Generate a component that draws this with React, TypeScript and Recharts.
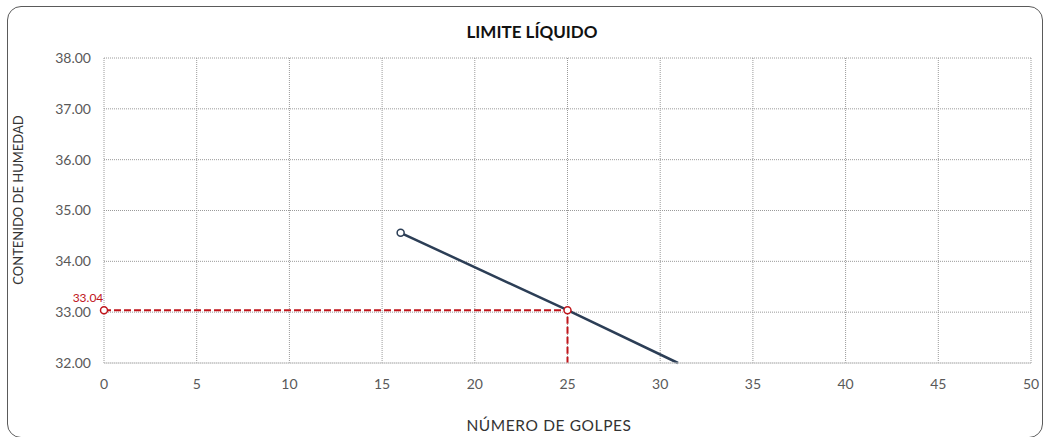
import { CartesianGrid, LabelList, Line, LineChart, XAxis, YAxis } from "recharts"

// Curva de fluidez (contenido de humedad vs número de golpes), visible hasta el borde inferior
const flowCurve = [
    { x: 16, y: 34.56 },
    { x: 25, y: 33.04 },
    { x: 30.96, y: 32 },
]

// Lectura del límite líquido a 25 golpes
const guideLine = [
    { x: 0, y: 33.04 },
    { x: 25, y: 33.04 },
    { x: 25, y: 32 },
]

const xTicks = [0, 5, 10, 15, 20, 25, 30, 35, 40, 45, 50]
const yTicks = [32, 33, 34, 35, 36, 37, 38]

const FONT = "Lato, 'Open Sans', sans-serif"
const NAVY = "#2c3e56"
const RED = "#c0151b"

function FirstDots(props: any) {
    const { cx, cy, index, stroke, count } = props
    if (index >= count) return <g key={index} />
    return <circle key={index} cx={cx} cy={cy} r={3.5} fill="#fff" stroke={stroke} strokeWidth={1.5} />
}

export default function App() {
    return (
        <div style={{ position: "fixed", left: 0, top: 0, width: 1045, height: 437, background: "#fff", fontFamily: FONT, overflow: "hidden" }}>
            <div
                style={{
                    position: "absolute",
                    left: 7,
                    top: 6,
                    width: 1034,
                    height: 430,
                    border: "1.5px solid #5a5a5a",
                    borderRadius: 14,
                }}
            />
            <div
                style={{
                    position: "absolute",
                    left: 0,
                    width: 1064,
                    top: 21,
                    textAlign: "center",
                    fontWeight: 700,
                    fontSize: 17,
                    color: "#111",
                }}
            >
                LIMITE LÍQUIDO
            </div>
            <div
                style={{
                    position: "absolute",
                    left: 0,
                    width: 1098,
                    top: 416,
                    textAlign: "center",
                    fontSize: 15.5,
                    letterSpacing: 0.6,
                    color: "#333",
                }}
            >
                NÚMERO DE GOLPES
            </div>
            <div
                style={{
                    position: "absolute",
                    left: 18,
                    top: 200,
                    transform: "translate(-50%, -50%) rotate(-90deg)",
                    whiteSpace: "nowrap",
                    fontSize: 13,
                    color: "#333",
                }}
            >
                CONTENIDO DE HUMEDAD
            </div>
            <div style={{ position: "absolute", left: 0, top: 0 }}>
                <LineChart width={1045} height={437} margin={{ top: 58, right: 14, left: 44, bottom: 44 }}>
                    <CartesianGrid stroke="#9a9a9a" strokeDasharray="1 1" horizontalValues={yTicks} verticalValues={xTicks} />
                    <XAxis
                        type="number"
                        dataKey="x"
                        domain={[0, 50]}
                        ticks={xTicks}
                        height={30}
                        tickLine={false}
                        tickSize={0}
                        tickMargin={16}
                        stroke="#d0d0d0"
                        tick={{ fill: "#595959", fontSize: 14, fontFamily: FONT }}
                    />
                    <YAxis
                        type="number"
                        domain={[32, 38]}
                        ticks={yTicks}
                        width={60}
                        axisLine={false}
                        tickLine={false}
                        tickSize={0}
                        tickMargin={13}
                        tickFormatter={(v: number) => v.toFixed(2)}
                        tick={{ fill: "#595959", fontSize: 14, fontFamily: FONT }}
                    />
                    <Line
                        data={flowCurve}
                        dataKey="y"
                        stroke={NAVY}
                        strokeWidth={2.5}
                        dot={(p: any) => <FirstDots {...p} count={1} />}
                        isAnimationActive={false}
                    />
                    <Line
                        data={guideLine}
                        dataKey="y"
                        stroke={RED}
                        strokeWidth={2}
                        strokeDasharray="7 3"
                        dot={(p: any) => <FirstDots {...p} count={2} />}
                        isAnimationActive={false}
                    >
                        <LabelList
                            dataKey="y"
                            content={(p: any) =>
                                p.index === 0 ? (
                                    <text x={p.x - 16} y={p.y - 8} textAnchor="middle" fill={RED} fontSize={12} fontFamily={FONT}>
                                        {Number(p.value).toFixed(2)}
                                    </text>
                                ) : null
                            }
                        />
                    </Line>
                </LineChart>
            </div>
        </div>
    )
}
